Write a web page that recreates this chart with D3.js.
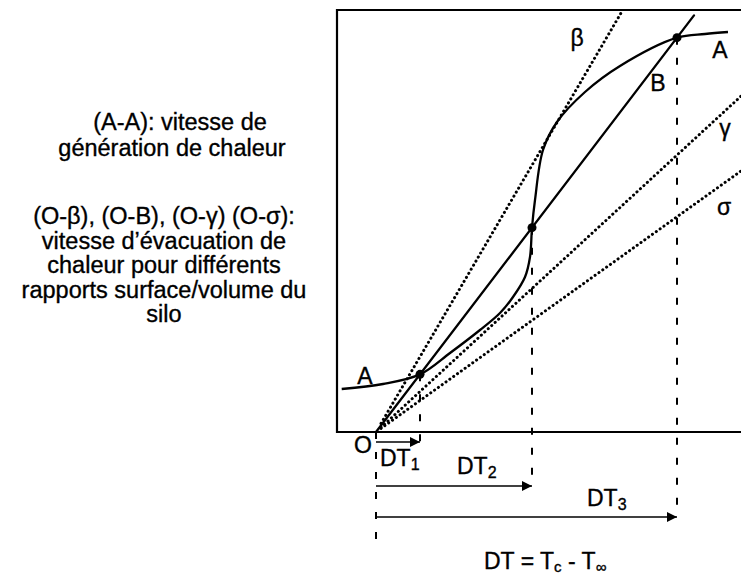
<!DOCTYPE html>
<html>
<head>
<meta charset="utf-8">
<script src="https://cdn.jsdelivr.net/npm/d3@7"></script>
<style>
  body { margin: 0; background: #fff; }
  svg { display: block; }
  text { font-family: "Liberation Sans", Arial, Helvetica, sans-serif; fill: #000; stroke: #000; stroke-width: 0.35px; }
</style>
</head>
<body>
<div id="chart"></div>
<script>
'use strict'

// heat generation curve (A-A), in DT units / rate units
const curveDT   = [-3.43, 0.7, 4.4, 7.4, 10.4, 12.4, 13.7, 14.9, 15.4, 15.6, 15.9, 16.7, 18.1, 20.9, 24.4, 30.1, 32.9, 35.2]
const curveRate = [4.3, 4.8, 5.76, 7.9, 10.2, 11.9, 13.5, 15.5, 17.5, 20.44, 23.2, 28.2, 31.0, 34.0, 36.6, 39.43, 39.8, 40.0]

// heat removal lines through O : name, slope, dotted or not
const lineNames  = ['β', 'B', 'γ', 'σ']
const lineSlopes = [1.71, 1.31, 0.92, 0.715]
const lineDotted = [true, false, true, true]

// crossing points of A-A with O-B  (DT1, DT2, DT3)
const crossDT    = [4.4, 15.6, 30.1]
const crossNames = ['1', '2', '3']

// label positions (DT, rate)
const labels = [
    { t: 'β', x: 20.1, y: 39.4 },
    { t: 'A', x: 34.4, y: 38.2 },
    { t: 'B', x: 28.2, y: 34.9 },
    { t: 'γ', x: 34.9, y: 30.4 },
    { t: 'σ', x: 34.8, y: 22.5 },
    { t: 'A', x: -1.1, y: 5.6 },
    { t: 'O', x: -1.3, y: -1.3 }
]

const leftText1 = ['(A-A): vitesse de', 'génération de chaleur']
const leftText2 = ['(O-β), (O-B), (O-γ) (O-σ):', 'vitesse d’évacuation de', 'chaleur pour différents', 'rapports surface/volume du', 'silo']

////////////////////////////////////
//////////// svg setup /////////////
////////////////////////////////////
const svgWidth = 741, svgHeight = 580

const svg = d3.select('#chart')
    .append('svg')
    .attr('width', svgWidth)
    .attr('height', svgHeight)

const x = d3.scaleLinear().domain([-3.9, 36.5]).range([337, 741])
const y = d3.scaleLinear().domain([0, 42.2]).range([432, 10])

const slope = lineSlopes[lineNames.indexOf('B')]

// frame : left, top, bottom
svg.append('path')
    .attr('d', `M${x(36.5)},${y(42.2)} H${x(-3.9)} V${y(0)} H${x(36.5)}`)
    .attr('fill', 'none')
    .attr('stroke', '#000')
    .attr('stroke-width', 2.2)

// clip for lines
svg.append('clipPath').attr('id', 'plot')
    .append('rect')
    .attr('x', x(-3.9)).attr('y', y(42.2))
    .attr('width', x(36.5) - x(-3.9)).attr('height', y(0) - y(42.2) + 4)

const g = svg.append('g').attr('clip-path', 'url(#plot)')

// removal lines
lineNames.forEach((n, i) => {
    const xEnd = Math.min(36.5, 42.2 / lineSlopes[i], n == 'B' ? 31.8 : 99)
    const x0 = lineDotted[i] ? 0.5 : 0
    g.append('line')
        .attr('x1', x(x0)).attr('y1', y(x0 * lineSlopes[i]))
        .attr('x2', x(xEnd)).attr('y2', y(xEnd * lineSlopes[i]))
        .attr('stroke', '#000')
        .attr('stroke-width', lineDotted[i] ? 3 : 2.3)
        .attr('stroke-linecap', 'round')
        .attr('stroke-dasharray', lineDotted[i] ? '0.1,4.6' : null)
})

// generation curve
const curveData = curveDT.map((d, i) => [d, curveRate[i]])
g.append('path')
    .datum(curveData)
    .attr('d', d3.line().x(d => x(d[0])).y(d => y(d[1])).curve(d3.curveCatmullRom.alpha(0.5)))
    .attr('fill', 'none')
    .attr('stroke', '#000')
    .attr('stroke-width', 2.3)

// arrows
const arrowY = [442, 486, 517]

svg.append('defs').append('marker')
    .attr('id', 'head')
    .attr('viewBox', '0 0 10 10')
    .attr('refX', 10).attr('refY', 5)
    .attr('markerUnits', 'userSpaceOnUse')
    .attr('markerWidth', 11).attr('markerHeight', 10)
    .attr('orient', 'auto')
    .append('path').attr('d', 'M0,0 L10,5 L0,10 Z').attr('fill', '#000')

// vertical dashed lines
svg.append('line')
    .attr('x1', x(0)).attr('x2', x(0))
    .attr('y1', y(0)).attr('y2', 542)
    .attr('stroke', '#000').attr('stroke-width', 2)
    .attr('stroke-dasharray', '7,13')

crossDT.forEach((d, i) => {
    svg.append('line')
        .attr('x1', x(d)).attr('x2', x(d))
        .attr('y1', y(d * slope)).attr('y2', arrowY[i])
        .attr('stroke', '#000').attr('stroke-width', 2)
        .attr('stroke-dasharray', '7,13')

    svg.append('line')
        .attr('x1', x(0)).attr('x2', x(d))
        .attr('y1', arrowY[i]).attr('y2', arrowY[i])
        .attr('stroke', '#000').attr('stroke-width', 1.6)
        .attr('marker-end', 'url(#head)')
})

// intersection dots
svg.selectAll('.dot')
    .data(crossDT)
    .join('circle')
    .attr('class', 'dot')
    .attr('cx', d => x(d))
    .attr('cy', d => y(d * slope))
    .attr('r', 4.5)
    .attr('fill', '#000')

// curve / line labels
svg.selectAll('.lab')
    .data(labels)
    .join('text')
    .attr('class', 'lab')
    .attr('x', d => x(d.x))
    .attr('y', d => y(d.y))
    .attr('text-anchor', 'middle')
    .attr('dominant-baseline', 'central')
    .style('font-size', '23px')
    .text(d => d.t)

// DT labels
const dtPos = [[380, 466], [457, 474], [587, 506]]
crossNames.forEach((n, i) => {
    const t = svg.append('text')
        .attr('x', dtPos[i][0]).attr('y', dtPos[i][1])
        .style('font-size', '23px')
    t.append('tspan').text('DT')
    t.append('tspan').attr('dy', 4).style('font-size', '16px').text(n)
})

const eq = svg.append('text')
    .attr('x', 484).attr('y', 569)
    .style('font-size', '23px')
eq.append('tspan').text('DT = T')
eq.append('tspan').attr('dy', 3).style('font-size', '15px').text('c')
eq.append('tspan').attr('dy', -3).text(' - T')
eq.append('tspan').attr('dy', 3).style('font-size', '15px').text('∞')

// left explanation text
svg.selectAll('.l1')
    .data(leftText1)
    .join('text')
    .attr('class', 'l1')
    .attr('x', (d, i) => i == 0 ? 180 : 172)
    .attr('y', (d, i) => 130 + i * 25.5)
    .attr('text-anchor', 'middle')
    .style('font-size', '23.5px')
    .text(d => d)

svg.selectAll('.l2')
    .data(leftText2)
    .join('text')
    .attr('class', 'l2')
    .attr('x', 164)
    .attr('y', (d, i) => 224 + i * 24.5)
    .attr('text-anchor', 'middle')
    .style('font-size', '23.5px')
    .text(d => d)
</script>
</body>
</html>
